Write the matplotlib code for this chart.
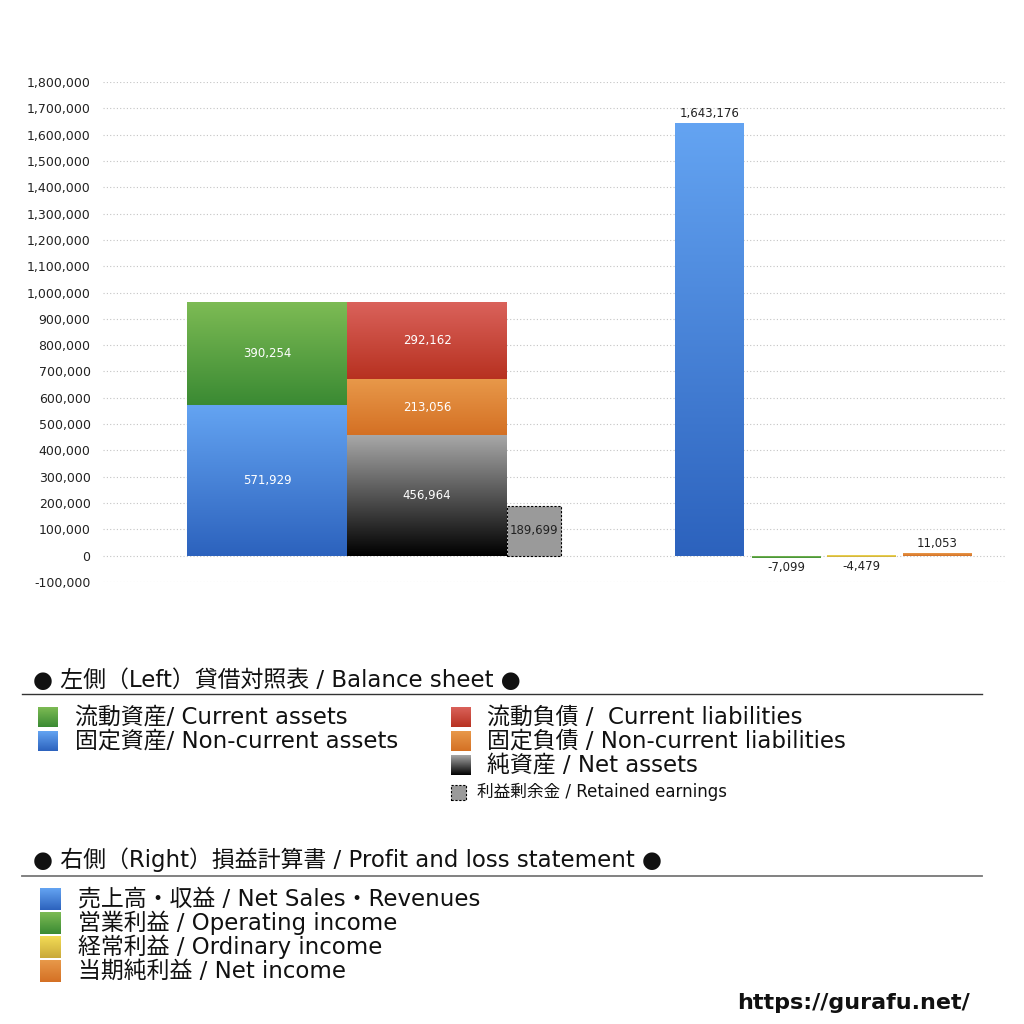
import numpy as np
import matplotlib
matplotlib.use("Agg")
import matplotlib.pyplot as plt
from matplotlib.colors import LinearSegmentedColormap
from matplotlib.patches import Rectangle
from matplotlib.lines import Line2D
from matplotlib.ticker import FuncFormatter

plt.rcParams['font.family'] = ['DejaVu Sans', 'Noto Sans CJK JP']

# balance sheet (left)
assets_labels = ['固定資産/ Non-current assets', '流動資産/ Current assets']
assets_values = [571929, 390254]
liab_labels = ['純資産 / Net assets', '固定負債 / Non-current liabilities', '流動負債 /  Current liabilities']
liab_values = [456964, 213056, 292162]
retained_label = '利益剰余金 / Retained earnings'
retained_value = 189699

# profit and loss (right)
pl_labels = ['売上高・収益 / Net Sales・Revenues', '営業利益 / Operating income',
             '経常利益 / Ordinary income', '当期純利益 / Net income']
pl_values = [1643176, -7099, -4479, 11053]

yticks = list(range(-100000, 1800001, 100000))

# gradient colours (top, bottom)
c_blue = ('#64a4f2', '#2c62bd')
c_green = ('#7dbb54', '#3a8a33')
c_red = ('#da625b', '#b73120')
c_orange = ('#e8994a', '#d47024')
c_black = ('#a8a8a8', '#000000')
c_yellow = ('#f3dc55', '#c9a93a')
c_pl = [c_blue, c_green, c_yellow, c_orange]


def grad_rect(ax, x0, x1, y0, y1, cols, z=2):
    cmap = LinearSegmentedColormap.from_list('g', [cols[1], cols[0]])
    g = np.linspace(0, 1, 256).reshape(-1, 1)
    lo, hi = min(y0, y1), max(y0, y1)
    ax.imshow(g, extent=[x0, x1, lo, hi], origin='lower', aspect='auto',
              cmap=cmap, zorder=z, interpolation='bilinear')


W = 1024
fig = plt.figure(figsize=(10.24, 10.24), dpi=100)
ax = fig.add_axes([103 / W, 1 - 582 / W, (1005 - 103) / W, 500 / W])
ax.set_xlim(103, 1005)
ax.set_ylim(-100000, 1800000)
ax.set_yticks(yticks)
ax.yaxis.set_major_formatter(FuncFormatter(lambda v, p: f'{int(v):,}'))
ax.tick_params(axis='y', length=0, labelsize=9, pad=9, colors='#222222')
ax.set_xticks([])
for s in ax.spines.values():
    s.set_visible(False)
ax.grid(axis='y', color='#c4c4c4', linestyle=(0, (1, 2)), linewidth=0.8)
ax.set_axisbelow(True)

lbl = dict(ha='center', va='center', fontsize=8.5, color='white', zorder=5)

# left bar: assets
base = 0
for v, cols in zip(assets_values, [c_blue, c_green]):
    grad_rect(ax, 187, 347, base, base + v, cols)
    ax.text(267, base + v / 2, f'{v:,}', **lbl)
    base += v

# middle bar: net assets + liabilities
base = 0
for v, cols in zip(liab_values, [c_black, c_orange, c_red]):
    grad_rect(ax, 347, 507, base, base + v, cols)
    ax.text(427, base + v / 2, f'{v:,}', **lbl)
    base += v

# retained earnings
ax.add_patch(Rectangle((507, 0), 54, retained_value, facecolor='#9a9a9a',
                       edgecolor='black', linestyle=(0, (2, 1.5)), linewidth=0.8, zorder=3))
ax.text(534, retained_value / 2, f'{retained_value:,}', ha='center', va='center',
        fontsize=8.5, color='#222222', zorder=5)

# profit and loss bars
pl_x = [675, 752, 827, 903]
for x0, v, cols in zip(pl_x, pl_values, c_pl):
    grad_rect(ax, x0, x0 + 69, 0, v, cols)
    if v >= 0:
        ax.text(x0 + 34.5, v + 12000, f'{v:,}', ha='center', va='bottom', fontsize=8.5, color='#222222')
    else:
        ax.text(x0 + 34.5, v - 12000, f'{v:,}', ha='center', va='top', fontsize=8.5, color='#222222')


def fy(py):
    return 1 - py / W


def legend_square(px, py, cols, w=20, h=20):
    a = fig.add_axes([px / W, fy(py + h / 2), w / W, h / W])
    grad_rect(a, 0, 1, 0, 1, cols)
    a.set_xlim(0, 1)
    a.set_ylim(0, 1)
    a.axis('off')


FS = 16.5

# section 1
fig.text(33 / W, fy(680), '● 左側（Left）貸借対照表 / Balance sheet ●', fontsize=FS,
         va='center', ha='left', color='#111111')
fig.add_artist(Line2D([22 / W, 982 / W], [fy(694), fy(694)], color='#333333', linewidth=1))

for i, (lab, cols) in enumerate(zip(assets_labels[::-1], [c_green, c_blue])):
    y = 717 + 24 * i
    legend_square(38, y, cols)
    fig.text(75 / W, fy(y), lab, fontsize=FS, va='center', ha='left', color='#111111')

for i, (lab, cols) in enumerate(zip(liab_labels[::-1], [c_red, c_orange, c_black])):
    y = 717 + 24 * i
    legend_square(451, y, cols)
    fig.text(487 / W, fy(y), lab, fontsize=FS, va='center', ha='left', color='#111111')

fig.add_artist(Rectangle((451 / W, fy(800)), 15 / W, 15 / W, facecolor='#9a9a9a',
                         edgecolor='black', linestyle=(0, (2, 1.5)), linewidth=0.8))
fig.text(477 / W, fy(792), retained_label, fontsize=12, va='center', ha='left', color='#111111')

# section 2
fig.text(33 / W, fy(860), '● 右側（Right）損益計算書 / Profit and loss statement ●', fontsize=FS,
         va='center', ha='left', color='#111111')
fig.add_artist(Line2D([22 / W, 982 / W], [fy(876), fy(876)], color='#777777', linewidth=1.3))

for i, (lab, cols) in enumerate(zip(pl_labels, c_pl)):
    y = 899 + 24 * i
    legend_square(40, y, cols, w=21, h=22)
    fig.text(78 / W, fy(y), lab, fontsize=FS, va='center', ha='left', color='#111111')

fig.text(970 / W, fy(1003), 'https://gurafu.net/', fontsize=16, fontweight='bold',
         va='center', ha='right', color='#111111')

fig.savefig('out.png', dpi=100, facecolor='white')
